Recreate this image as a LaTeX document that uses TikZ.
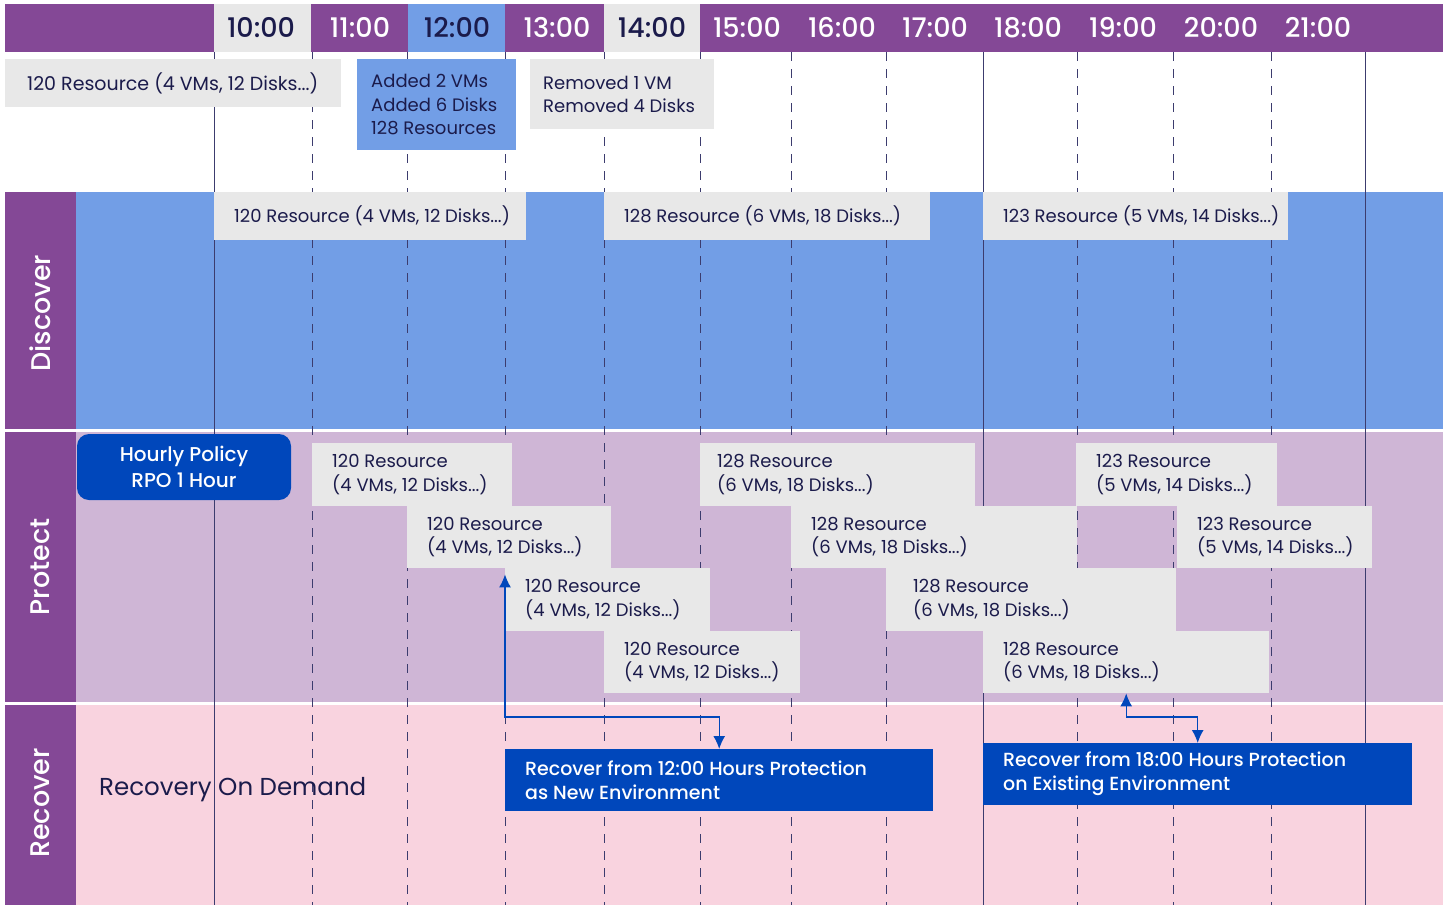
\documentclass[tikz,border=0pt]{standalone}
\usepackage{fontspec}
\setmainfont{Poppins}
\newfontfamily\medfont{Poppins Medium}
\usetikzlibrary{arrows.meta}

\definecolor{rowpurple}{HTML}{844896}
\definecolor{discblue}{HTML}{729EE6}
\definecolor{boxgrey}{HTML}{E8E8E8}
\definecolor{protpurple}{HTML}{CFB6D6}
\definecolor{recpink}{HTML}{F9D3DF}
\definecolor{deepblue}{HTML}{0047BB}
\definecolor{inkblue}{HTML}{1B1B4B}
\definecolor{gridline}{HTML}{3C3C6E}

\tikzset{
  resbox/.style={fill=boxgrey, anchor=north west, inner sep=0pt},
  restext/.style={anchor=west, xshift=20pt, align=left, inner sep=0pt,
    text=inkblue, font=\fontsize{18}{23.5}\selectfont},
  recbox/.style={resbox, fill=deepblue},
  rectext/.style={restext, text=white, font=\medfont\fontsize{19}{24}\selectfont},
  hourlabel/.style={font=\medfont\fontsize{27}{27}\selectfont},
  rowtitle/.style={rotate=90, text=white, font=\medfont\fontsize{27}{27}\selectfont},
}

\begin{document}
\begin{tikzpicture}[x=1pt,y=-1pt,
    gridsolid/.style={gridline, line width=1pt},
    griddash/.style={gridline, line width=1pt, dash pattern=on 9pt off 8pt},
    flow/.style={deepblue, line width=1.4pt,
      {Latex[length=13pt,width=12pt]}-{Latex[length=13pt,width=12pt]}}]
    \useasboundingbox (0,0) rectangle (1447,907);
    \fill[white] (0,0) rectangle (1447,907);

    % header band
    \fill[rowpurple] (5,4) rectangle (1443,52);
    \fill[boxgrey] (214,4) rectangle (311,52);
    \fill[discblue] (408,4) rectangle (505,52);
    \fill[boxgrey] (604,4) rectangle (700,52);

    % rows
    \fill[rowpurple] (5,192) rectangle (76,429);
    \fill[discblue] (76,192) rectangle (1443,429);
    \fill[rowpurple] (5,432) rectangle (76,702);
    \fill[protpurple] (76,432) rectangle (1443,702);
    \fill[rowpurple] (5,705) rectangle (76,905);
    \fill[recpink] (76,705) rectangle (1443,905);

    % hour grid
    \foreach \x in {214,983,1365}
        \draw[gridsolid] (\x,52) -- (\x,905);
    \foreach \x in {312,407,505,604,700,791,886,1077,1173,1271}
        \draw[griddash] (\x,52) -- (\x,905);

    \foreach \t/\x/\c in {10/261/inkblue, 11/360/white, 12/457/inkblue,
        13/557/white, 14/652/inkblue, 15/747/white, 16/842/white,
        17/935/white, 18/1028/white, 19/1123/white, 20/1221/white,
        21/1318/white}
        \node[hourlabel, text=\c] (hour\t) at (\x,28) {\t:00};

    \node[rowtitle] (discover) at (40,313) {Discover};
    \node[rowtitle] (protect) at (40,567) {Protect};
    \node[rowtitle] (recover) at (40,803) {Recover};

    % changes
    \node[resbox, minimum width=336pt, minimum height=48pt,
        label={[restext, xshift=2pt, font=\fontsize{19}{24}\selectfont]west:%
        {120 Resource (4 VMs, 12 Disks...)}}] (source) at (5,59) {};
    \node[resbox, fill=discblue, minimum width=159pt, minimum height=91pt,
        label={[restext, xshift=-6pt]west:%
        {Added 2 VMs\\Added 6 Disks\\128 Resources}}] (added) at (357,59) {};
    \node[resbox, minimum width=184pt, minimum height=70pt,
        label={[restext, xshift=-7pt]west:%
        {Removed 1 VM\\Removed 4 Disks}}] (removed) at (530,59) {};

    % discover
    \node[resbox, minimum width=312pt, minimum height=48pt,
        label={[restext]west:{120 Resource (4 VMs, 12 Disks...)}}]
        (disc120) at (214,192) {};
    \node[resbox, minimum width=326pt, minimum height=48pt,
        label={[restext]west:{128 Resource (6 VMs, 18 Disks...)}}]
        (disc128) at (604,192) {};
    \node[resbox, minimum width=305pt, minimum height=48pt,
        label={[restext]west:{123 Resource (5 VMs, 14 Disks...)}}]
        (disc123) at (983,192) {};

    % protect
    \node[fill=deepblue, text=white, rounded corners=12pt, align=center,
        minimum width=214pt, minimum height=66pt,
        font=\medfont\fontsize{20}{26}\selectfont] (policy) at (184,467)
        {Hourly Policy\\RPO 1 Hour};

    \node[resbox, minimum width=200pt, minimum height=62.5pt,
        label={[restext]west:{120 Resource\\(4 VMs, 12 Disks...)}}]
        (prot120a) at (312,443) {};
    \node[resbox, minimum width=204pt, minimum height=62.5pt,
        label={[restext]west:{120 Resource\\(4 VMs, 12 Disks...)}}]
        (prot120b) at (407,505.5) {};
    \node[resbox, minimum width=205pt, minimum height=62.5pt,
        label={[restext]west:{120 Resource\\(4 VMs, 12 Disks...)}}]
        (prot120c) at (505,568) {};
    \node[resbox, minimum width=196pt, minimum height=62.5pt,
        label={[restext]west:{120 Resource\\(4 VMs, 12 Disks...)}}]
        (prot120d) at (604,630.5) {};

    \node[resbox, minimum width=275pt, minimum height=62.5pt,
        label={[restext, xshift=-3pt]west:{128 Resource\\(6 VMs, 18 Disks...)}}]
        (prot128a) at (700,443) {};
    \node[resbox, minimum width=286pt, minimum height=62.5pt,
        label={[restext]west:{128 Resource\\(6 VMs, 18 Disks...)}}]
        (prot128b) at (791,505.5) {};
    \node[resbox, minimum width=290pt, minimum height=62.5pt,
        label={[restext, xshift=7pt]west:{128 Resource\\(6 VMs, 18 Disks...)}}]
        (prot128c) at (886,568) {};
    \node[resbox, minimum width=286pt, minimum height=62.5pt,
        label={[restext]west:{128 Resource\\(6 VMs, 18 Disks...)}}]
        (prot128d) at (983,630.5) {};

    \node[resbox, minimum width=201pt, minimum height=62.5pt,
        label={[restext]west:{123 Resource\\(5 VMs, 14 Disks...)}}]
        (prot123a) at (1076,443) {};
    \node[resbox, minimum width=195pt, minimum height=62.5pt,
        label={[restext]west:{123 Resource\\(5 VMs, 14 Disks...)}}]
        (prot123b) at (1177,505.5) {};

    % recover
    \node[anchor=west, inner sep=0pt, text=inkblue,
        font=\fontsize{24.5}{24.5}\selectfont]
        (ondemand) at (99,790) {Recovery On Demand};
    \node[recbox, minimum width=428pt, minimum height=62pt,
        label={[rectext]west:{Recover from 12:00 Hours Protection\\as New Environment}}]
        (rec12) at (505,749) {};
    \node[recbox, minimum width=429pt, minimum height=62pt,
        label={[rectext]west:{Recover from 18:00 Hours Protection\\on Existing Environment}}]
        (rec18) at (983,743) {};

    \draw[flow, shorten <=6pt] (prot120b.south -| prot120c.west)
        |- ([yshift=32pt]rec12.north) -- (rec12.north);
    \draw[flow] (prot128d.south)
        |- ([yshift=26pt]rec18.north) -- (rec18.north);
\end{tikzpicture}
\end{document}
